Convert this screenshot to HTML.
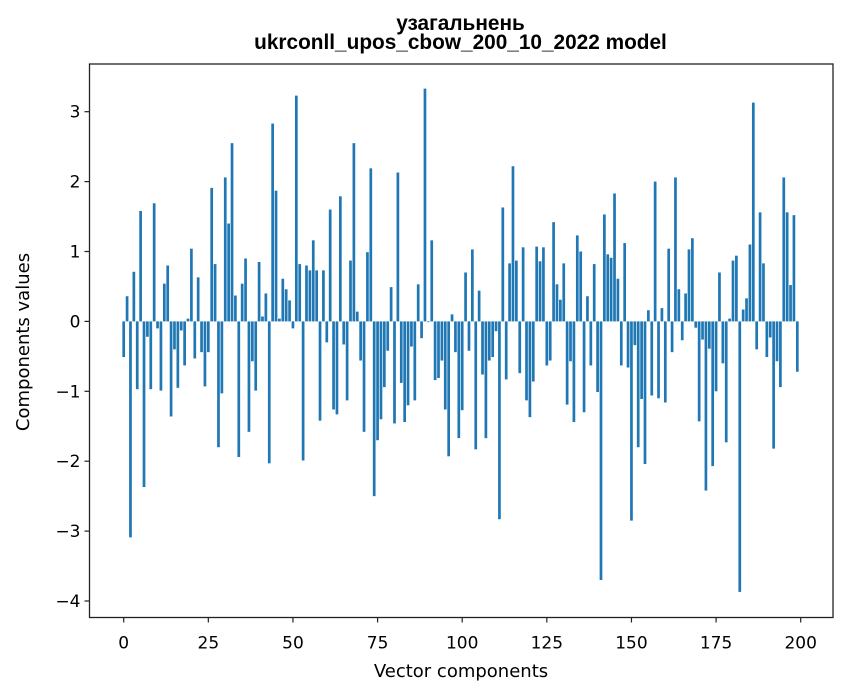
<!DOCTYPE html>
<html><head><meta charset="utf-8"><style>
html,body{margin:0;padding:0;background:#fff;}
svg{display:block;font-family:"DejaVu Sans","Liberation Sans",sans-serif;}
</style></head><body>
<svg id="chart" width="847" height="696" viewBox="0 0 847 696">
<text x="460.5" y="30" text-anchor="middle" font-size="20.8" font-weight="bold" font-family="Liberation Sans, sans-serif">узагальнень</text>
<text x="460.5" y="49" text-anchor="middle" font-size="20.8" font-weight="bold" font-family="Liberation Sans, sans-serif">ukrconll_upos_cbow_200_10_2022 model</text>
<g id="bars"></g>
<g id="axes"></g>
<text x="461" y="677" text-anchor="middle" font-size="18">Vector components</text>
<text transform="translate(29,342) rotate(-90)" text-anchor="middle" font-size="18">Components values</text>
</svg>
<script>
const values = [-0.51,0.36,-3.09,0.71,-0.97,1.58,-2.37,-0.22,-0.97,1.69,-0.10,-0.99,0.54,0.80,-1.36,-0.40,-0.95,-0.13,-0.63,0.04,
1.04,-0.53,0.63,-0.44,-0.93,-0.44,1.91,0.82,-1.80,-1.03,2.06,1.40,2.55,0.37,-1.94,0.54,0.90,-1.58,-0.57,-0.99,
0.85,0.07,0.40,-2.03,2.83,1.87,0.04,0.61,0.46,0.30,-0.10,3.23,0.82,-1.99,0.80,0.73,1.16,0.73,-1.42,0.73,
-0.30,1.60,-1.26,-1.33,1.79,-0.33,-1.13,0.87,2.55,0.14,-0.56,-1.58,0.99,2.19,-2.50,-1.70,-1.40,-0.94,-0.42,0.49,
-1.46,2.13,-0.88,-1.44,-1.20,-0.36,-1.13,0.53,-0.24,3.33,-0.01,1.16,-0.84,-0.81,-0.56,-1.26,-1.93,0.10,-0.44,-1.67,
-1.27,0.70,-0.42,1.03,-1.83,0.44,-0.76,-1.67,-0.56,-0.51,-0.14,-2.83,1.63,-0.83,0.83,2.22,0.87,-0.74,1.06,-1.13,
-1.37,-0.86,1.07,0.86,1.06,-0.63,-0.56,1.42,0.53,0.31,0.83,-1.19,-0.57,-1.44,1.23,1.00,-1.30,0.36,-0.63,0.82,
-1.01,-3.70,1.53,0.96,0.91,1.83,0.61,-0.63,1.12,-0.66,-2.85,-0.34,-1.80,-1.11,-2.04,0.16,-1.06,2.00,-1.10,0.19,
-1.16,1.04,-0.44,2.06,0.46,-0.27,0.40,1.03,1.19,-0.09,-1.43,-0.26,-2.42,-0.39,-2.07,-1.00,0.70,-0.60,-1.73,0.04,
0.87,0.94,-3.87,0.17,0.33,1.10,3.13,-0.40,1.56,0.83,-0.51,-0.23,-1.82,-0.57,-0.94,2.06,1.56,0.52,1.52,-0.72];
const xTicks = [0,25,50,75,100,125,150,175,200];
const yTicks = [-4,-3,-2,-1,0,1,2,3];
const yTickLabels = ["−4","−3","−2","−1","0","1","2","3"];

const NS="http://www.w3.org/2000/svg";
const L=89.5,R=833,T=64,B=617.5;
function xs(v){return 123.7+v*3.385;}
function ys(v){return 321.4-v*69.9;}
const bars=document.getElementById('bars');
values.forEach((v,i)=>{
  const r=document.createElementNS(NS,'rect');
  const y0=ys(0),y1=ys(v);
  r.setAttribute('x',xs(i-0.4));
  r.setAttribute('width',3.385*0.8);
  r.setAttribute('y',Math.min(y0,y1));
  r.setAttribute('height',Math.abs(y1-y0));
  r.setAttribute('fill','#1f77b4');
  
  
  bars.appendChild(r);
});
const axes=document.getElementById('axes');
const frame=document.createElementNS(NS,'rect');
frame.setAttribute('x',L);frame.setAttribute('y',T);
frame.setAttribute('width',R-L);frame.setAttribute('height',B-T);
frame.setAttribute('fill','none');frame.setAttribute('stroke','#222');frame.setAttribute('stroke-width','1.3');


axes.appendChild(frame);
xTicks.forEach(t=>{
  const x=xs(t);
  const ln=document.createElementNS(NS,'line');
  ln.setAttribute('x1',x);ln.setAttribute('x2',x);ln.setAttribute('y1',B);ln.setAttribute('y2',B+5);
  ln.setAttribute('stroke','#222');ln.setAttribute('stroke-width','1.2');
  
  
  axes.appendChild(ln);
  const tx=document.createElementNS(NS,'text');
  tx.setAttribute('x',x);tx.setAttribute('y',B+31);tx.setAttribute('text-anchor','middle');tx.setAttribute('font-size','17');
  tx.textContent=t;
  
  
  axes.appendChild(tx);
});
yTicks.forEach((t,i)=>{
  const y=ys(t);
  const ln=document.createElementNS(NS,'line');
  ln.setAttribute('x1',L-5);ln.setAttribute('x2',L);ln.setAttribute('y1',y);ln.setAttribute('y2',y);
  ln.setAttribute('stroke','#222');ln.setAttribute('stroke-width','1.2');
  
  
  axes.appendChild(ln);
  const tx=document.createElementNS(NS,'text');
  tx.setAttribute('x',L-9);tx.setAttribute('y',y+6);tx.setAttribute('text-anchor','end');tx.setAttribute('font-size','17');
  tx.textContent=yTickLabels[i];
  
  
  axes.appendChild(tx);
});
</script>
</body></html>
